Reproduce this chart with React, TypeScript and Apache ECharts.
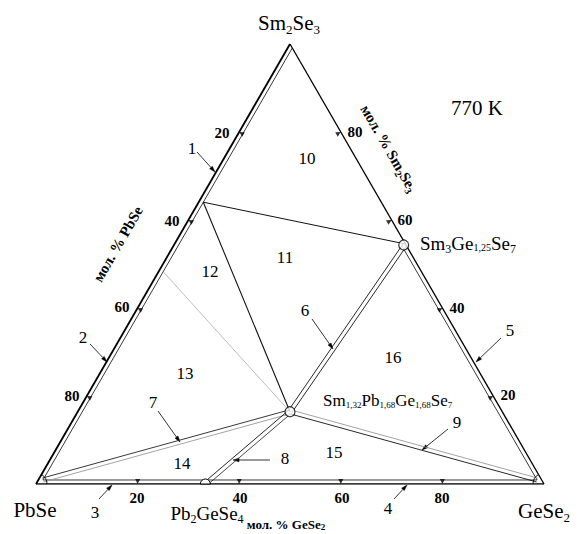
import React, { useEffect, useRef } from 'react';
import * as echarts from 'echarts';

// ---- compositions, in moles of [PbSe, GeSe2, Sm2Se3] ----
const PbSe = [1, 0, 0];
const GeSe2 = [0, 1, 0];
const Sm2Se3 = [0, 0, 1];
const Pb2GeSe4 = [2, 1, 0];
const Sm3Ge125Se7 = [0, 1.25, 1.5];
const Sm132Pb168Ge168Se7 = [1.68, 1.68, 0.66];
const tieStartA = [0.355, 0, 0.645]; // on PbSe–Sm2Se3 side (end of region 1)
const tieStartB = [0.513, 0, 0.487]; // on PbSe–Sm2Se3 side (grey tie line)
const tickValues = [20, 40, 60, 80];
const regionNumbers = ['10', '11', '12', '13', '14', '15', '16'];
const arrowNumbers = ['1', '2', '3', '4', '5', '6', '7', '8', '9'];

const SQ3 = Math.sqrt(3) / 2;
const PXU = 508; // pixels per data unit (plot width)

type P = number[];
function tern(c: P): P {
  const s = c[0] + c[1] + c[2];
  const ge = c[1] / s, sm = c[2] / s;
  return [ge + sm / 2, sm * SQ3];
}
const add = (p: P, v: P, k: number): P => [p[0] + v[0] * k, p[1] + v[1] * k];
const A = tern(Sm2Se3), B = tern(PbSe), C = tern(GeSe2);
const centroid: P = [(A[0] + B[0] + C[0]) / 3, (A[1] + B[1] + C[1]) / 3];
function normal(a: P, b: P): P {
  const dx = b[0] - a[0], dy = b[1] - a[1];
  const L = Math.hypot(dx, dy);
  return [-dy / L, dx / L];
}
function inward(a: P, b: P): P {
  const n = normal(a, b);
  const d = (centroid[0] - a[0]) * n[0] + (centroid[1] - a[1]) * n[1];
  return d < 0 ? [-n[0], -n[1]] : n;
}
function inset(v: P, d: number): P {
  const dx = centroid[0] - v[0], dy = centroid[1] - v[1];
  const L = Math.hypot(dx, dy);
  return [v[0] + (dx / L) * 2 * d, v[1] + (dy / L) * 2 * d];
}
function intersect(p1: P, p2: P, p3: P, p4: P): P {
  const d = (p1[0] - p2[0]) * (p3[1] - p4[1]) - (p1[1] - p2[1]) * (p3[0] - p4[0]);
  const a = p1[0] * p2[1] - p1[1] * p2[0];
  const b = p3[0] * p4[1] - p3[1] * p4[0];
  return [
    (a * (p3[0] - p4[0]) - (p1[0] - p2[0]) * b) / d,
    (a * (p3[1] - p4[1]) - (p1[1] - p2[1]) * b) / d,
  ];
}
function dbl(a: P, b: P, h: number): P[][] {
  const n = normal(a, b);
  return [
    [add(a, n, h), add(b, n, h)],
    [add(a, n, -h), add(b, n, -h)],
  ];
}

const serif = '"Liberation Serif", "Times New Roman", serif';

function line(pts: P[], color: string, width: number, z = 2) {
  return {
    type: 'line', data: pts, symbol: 'none', silent: true, z,
    lineStyle: { color, width }, animation: false,
  };
}

function plainText(x: number, y: number, text: string, size: number, opt: any = {}) {
  return {
    type: 'text', x, y, rotation: opt.rot || 0, silent: true, z: 20,
    style: {
      text, fill: '#000', fontSize: size, fontFamily: serif,
      fontWeight: opt.bold ? 'bold' : 'normal',
      align: opt.align || 'center', verticalAlign: 'middle',
    },
  };
}

// parts: [text, 'm' | 's' | 't']
function formula(x: number, cy: number, parts: [string, string][], size: number, sSize: number, tSize: number, drop: number, opt: any = {}) {
  const w = opt.bold ? 'bold' : 'normal';
  const blockH = Math.max(size, drop + sSize, drop + tSize);
  const y = cy + blockH / 2 - size / 2;
  return {
    type: 'text', x, y, rotation: opt.rot || 0, silent: true, z: 20,
    style: {
      text: parts.map(([t, k]) => `{${k}|${t}}`).join(''),
      fill: '#000', fontSize: size, fontFamily: serif, fontWeight: w,
      align: opt.align || 'center', verticalAlign: 'middle',
      rich: {
        m: { fontSize: size, fontFamily: serif, fontWeight: w, fill: '#000', verticalAlign: 'top', lineHeight: size },
        s: { fontSize: sSize, fontFamily: serif, fontWeight: w, fill: '#000', verticalAlign: 'top', padding: [drop, 0, 0, 0], lineHeight: drop + sSize },
        t: { fontSize: tSize, fontFamily: serif, fontWeight: w, fill: '#000', verticalAlign: 'top', padding: [drop, 0, 0, 0], lineHeight: drop + tSize },
      },
    },
  };
}

function arrow(x1: number, y1: number, x2: number, y2: number) {
  const dx = x2 - x1, dy = y2 - y1, L = Math.hypot(dx, dy);
  const ux = dx / L, uy = dy / L;
  const bx = x2 - ux * 6, by = y2 - uy * 6;
  return {
    type: 'group', silent: true, z: 15,
    children: [
      { type: 'line', shape: { x1, y1, x2: bx, y2: by }, style: { stroke: '#000', lineWidth: 0.8 } },
      {
        type: 'polygon',
        shape: { points: [[x2, y2], [bx - uy * 1.8, by + ux * 1.8], [bx + uy * 1.8, by - ux * 1.8]] },
        style: { fill: '#000', stroke: '#000', lineWidth: 0.5 },
      },
    ],
  };
}

export default function App() {
  const ref = useRef<HTMLDivElement>(null);
  useEffect(() => {
    if (!ref.current) return;
    const chart = echarts.init(ref.current, null, { renderer: 'svg' });

    const d = 4 / PXU; // band width
    const h = 2 / PXU; // half gap for double lines
    const S = tern(Sm3Ge125Se7);
    const Q = tern(Sm132Pb168Ge168Se7);
    const PG = tern(Pb2GeSe4);
    const nL = inward(B, A), nB = inward(B, C), nR = inward(A, C);
    const iB = inset(B, d), iC = inset(C, d), iA = inset(A, d);
    const leftTop = intersect(iB, iA, A, C);
    const Sin = add(S, nR, d);
    const P1 = add(tern(tieStartA), nL, d);
    const P2 = add(tern(tieStartB), nL, d);

    const series: any[] = [
      // outer triangle
      line([B, A], '#000', 1.8, 5),
      line([B, C], '#000', 1.5, 5),
      line([A, C], '#000', 1.3, 5),
      // inner lines of single-phase bands
      line([iB, leftTop], '#222', 0.9),
      line([iB, iC], '#222', 0.9),
      line([Sin, iC], '#222', 0.9),
      // tie lines
      line([P1, S], '#111', 1),
      line([P1, Q], '#111', 1.1),
      line([P2, Q], '#b5b5b5', 0.9),
    ];
    const bands: [P[][], string[]][] = [
      [dbl(Q, S, h), ['#111', '#111']],
      [dbl(iB, Q, h), ['#222', '#999']],
      [dbl(PG, Q, h), ['#111', '#333']],
      [dbl(Q, iC, h), ['#999', '#111']],
    ];
    bands.forEach(([segs, cols]) => {
      series.push(line(segs[0], cols[0], 0.9));
      series.push(line(segs[1], cols[1], 0.9));
    });

    // tick marks
    const tickStyle = { color: '#000' };
    series.push({
      type: 'scatter', silent: true, z: 6, symbol: 'triangle', symbolSize: [5, 5], symbolRotate: 180,
      itemStyle: tickStyle,
      data: tickValues.map((t) => add(tern([100 - t, t, 0]), nB, 2.5 / PXU)),
    });
    series.push({
      type: 'scatter', silent: true, z: 6, symbol: 'triangle', symbolSize: [5, 5], symbolRotate: 60,
      itemStyle: tickStyle,
      data: tickValues.map((t) => add(tern([t, 0, 100 - t]), nL, 2.5 / PXU)),
    });
    series.push({
      type: 'scatter', silent: true, z: 6, symbol: 'triangle', symbolSize: [5, 5], symbolRotate: -60,
      itemStyle: tickStyle,
      data: tickValues.map((t) => add(tern([0, 100 - t, t]), nR, 2.5 / PXU)),
    });

    // corner arcs and Pb2GeSe4 half-circle
    series.push({
      type: 'custom', silent: true, z: 8,
      coordinateSystem: 'cartesian2d',
      data: [[B[0], B[1], 0], [C[0], C[1], 1], [PG[0], PG[1], 2]],
      renderItem: (params: any, api: any) => {
        const p = api.coord([api.value(0), api.value(1)]);
        const k = api.value(2);
        if (k === 2) {
          return {
            type: 'sector',
            shape: { cx: p[0], cy: p[1], r: 5, r0: 0, startAngle: Math.PI, endAngle: 2 * Math.PI, clockwise: true },
            style: { fill: '#fff', stroke: '#000', lineWidth: 1 },
          };
        }
        const sa = k === 0 ? -Math.PI / 3 : Math.PI;
        const ea = k === 0 ? 0 : (4 * Math.PI) / 3;
        return {
          type: 'arc',
          shape: { cx: p[0], cy: p[1], r: 11, startAngle: sa, endAngle: ea, clockwise: true },
          style: { fill: 'none', stroke: '#000', lineWidth: 0.9 },
        };
      },
    });

    // compound circles
    series.push({
      type: 'scatter', silent: true, z: 9, symbol: 'circle', symbolSize: 10,
      itemStyle: { color: '#fff', borderColor: '#000', borderWidth: 1.2 },
      data: [add(S, nR, h), Q],
    });

    const regionPos = [[307, 158], [285, 257], [210, 271], [185, 373], [182, 463], [334, 452], [393, 357]];
    const numPos = [[192, 148], [83, 337], [95, 512], [388, 508], [510, 330], [305, 310], [153, 402], [285, 458], [457, 422]];
    const arrows = [
      [197, 152, 215, 172], [90, 344, 107, 362], [99, 499, 112, 485], [394, 499, 407, 485],
      [501, 338, 476, 362], [312, 319, 333, 349], [158, 411, 180, 442], [270, 460, 233, 460], [448, 429, 422, 450],
    ];

    const graphic: any[] = [];
    graphic.push(formula(289, 23, [['Sm', 'm'], ['2', 's'], ['Se', 'm'], ['3', 's']], 21, 13, 13, 10));
    graphic.push(plainText(35, 510, 'PbSe', 21));
    graphic.push(formula(544, 511, [['GeSe', 'm'], ['2', 's']], 21, 13, 13, 10));
    graphic.push(formula(207, 513, [['Pb', 'm'], ['2', 's'], ['GeSe', 'm'], ['4', 's']], 19, 12, 12, 9));
    graphic.push(formula(420, 243, [['Sm', 'm'], ['3', 's'], ['Ge', 'm'], ['1,25', 't'], ['Se', 'm'], ['7', 's']], 19, 12, 10, 9, { align: 'left' }));
    graphic.push(formula(323, 400, [['Sm', 'm'], ['1,32', 't'], ['Pb', 'm'], ['1,68', 't'], ['Ge', 'm'], ['1,68', 't'], ['Se', 'm'], ['7', 't']], 17, 9, 9, 9, { align: 'left' }));
    graphic.push(plainText(477, 108, '770 K', 21));

    // tick labels
    const bottomX = [137, 240, 342, 442];
    tickValues.forEach((t, i) => graphic.push(plainText(bottomX[i], 498, String(t), 15, { bold: true })));
    const leftPos = [[222, 133], [172, 221], [122, 307], [72, 396]];
    tickValues.forEach((t, i) => graphic.push(plainText(leftPos[i][0], leftPos[i][1], String(t), 15, { bold: true })));
    const rightPos = [[508, 395], [457, 308], [405, 220], [355, 132]];
    tickValues.forEach((t, i) => graphic.push(plainText(rightPos[i][0], rightPos[i][1], String(t), 15, { bold: true })));

    // axis titles
    graphic.push(plainText(118, 244, 'мол. % PbSe', 15, { bold: true, rot: Math.PI / 3 }));
    graphic.push(formula(388, 148, [['мол. % Sm', 'm'], ['2', 's'], ['Se', 'm'], ['3', 's']], 15, 10, 10, 7, { bold: true, rot: -Math.PI / 3 }));
    graphic.push(formula(286, 524, [['мол. % GeSe', 'm'], ['2', 's']], 13, 9, 9, 5, { bold: true }));

    regionNumbers.forEach((n, i) => graphic.push(plainText(regionPos[i][0], regionPos[i][1], n, 17)));
    arrowNumbers.forEach((n, i) => graphic.push(plainText(numPos[i][0], numPos[i][1], n, 17)));
    arrows.forEach((a) => graphic.push(arrow(a[0], a[1], a[2], a[3])));

    chart.setOption({
      animation: false,
      backgroundColor: '#fff',
      grid: { left: 36, top: 44, width: 508, height: 440, containLabel: false },
      xAxis: { type: 'value', min: 0, max: 1, show: false },
      yAxis: { type: 'value', min: 0, max: SQ3, show: false },
      series,
      graphic,
    });
    return () => chart.dispose();
  }, []);
  return (
    <div
      ref={ref}
      style={{ position: 'absolute', left: 0, top: 0, width: 579, height: 534, background: '#fff' }}
    />
  );
}
